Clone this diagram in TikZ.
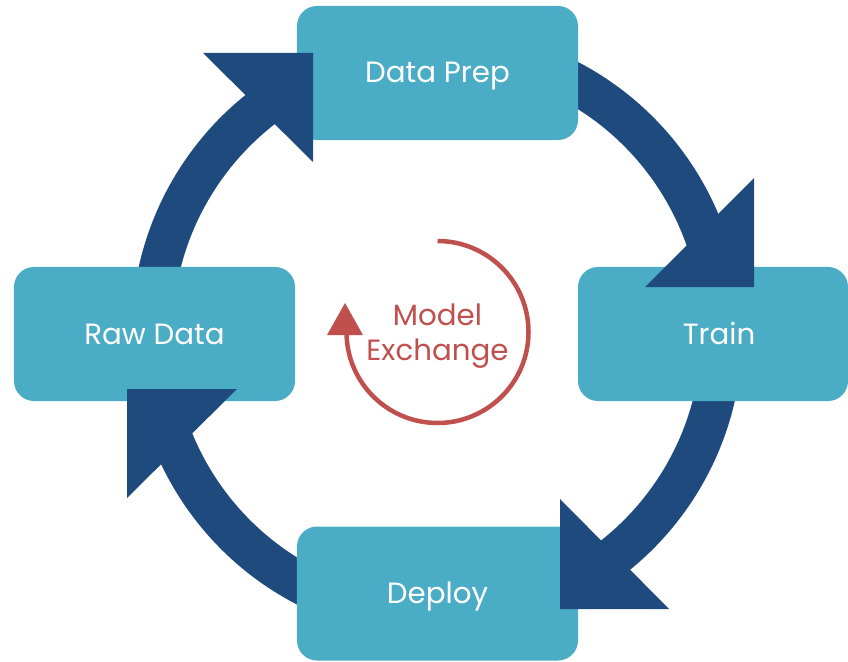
\documentclass[tikz,border=0pt]{standalone}
\usepackage{fontspec}
\setmainfont{Poppins}
\usepackage{tikz}
\definecolor{boxblue}{HTML}{4BACC6}
\definecolor{ringblue}{HTML}{1F4A7D}
\definecolor{mxred}{HTML}{C0504D}
\newcommand{\boxcol}{boxblue}
\newcommand{\ringcol}{ringblue}
\newcommand{\mxcol}{mxred}
\tikzset{
  stage/.style={fill=\boxcol, text=white, rounded corners=0.6cm,
    minimum width=8.43cm, minimum height=4.02cm, inner sep=0pt, outer sep=0pt,
    text height=0.6cm, text depth=0pt,
    font=\fontsize{25}{30}\selectfont},
  ring/.style={draw=\ringcol, line width=1.23cm},
}

\begin{document}
\begin{tikzpicture}[x=0.03cm, y=0.03cm]
    \useasboundingbox (0,0) rectangle (848,661);
    \coordinate (hub) at (437, 328);

    % ring pieces, under the boxes
    \draw[ring] (hub) ++(170:285) arc[start angle=170, end angle=115, radius=285];
    \draw[ring] (hub) ++(70:285) arc[start angle=70, end angle=5, radius=285];
    \draw[ring] (hub) ++(-10:285) arc[start angle=-10, end angle=-65, radius=285];
    \draw[ring] (hub) ++(-115:285) arc[start angle=-115, end angle=-170, radius=285];

    \node[stage] (prep) at (437.5, 588) {Data Prep};
    \node[stage] (raw) at (154.5, 327) {Raw Data};
    \node[stage, minimum width=8.1cm] (train) at (713, 327) {\hspace{0.36cm}Train};
    \node[stage] (deploy) at (437.5, 67.5) {Deploy};

    % arrow heads, over the boxes
    \fill[\ringcol] (203, 608) -- (313, 608) -- (313, 499) -- cycle;
    \fill[\ringcol] (754, 483) -- (754, 374) -- (645, 374) -- cycle;
    \fill[\ringcol] (560, 162) -- (560, 52) -- (669, 52) -- cycle;
    \fill[\ringcol] (127, 272) -- (237, 272) -- (127, 163) -- cycle;

    % model exchange
    \draw[\mxcol, line width=0.135cm] (437.5, 420) arc[start angle=90, end angle=-180, radius=91];
    \fill[\mxcol] (345, 358) -- (327, 326) -- (363, 326) -- cycle;
    \node[\mxcol, align=center, font=\fontsize{25}{30.5}\selectfont] (mx) at (437.5, 325) {Model\\Exchange};

\end{tikzpicture}
\end{document}
